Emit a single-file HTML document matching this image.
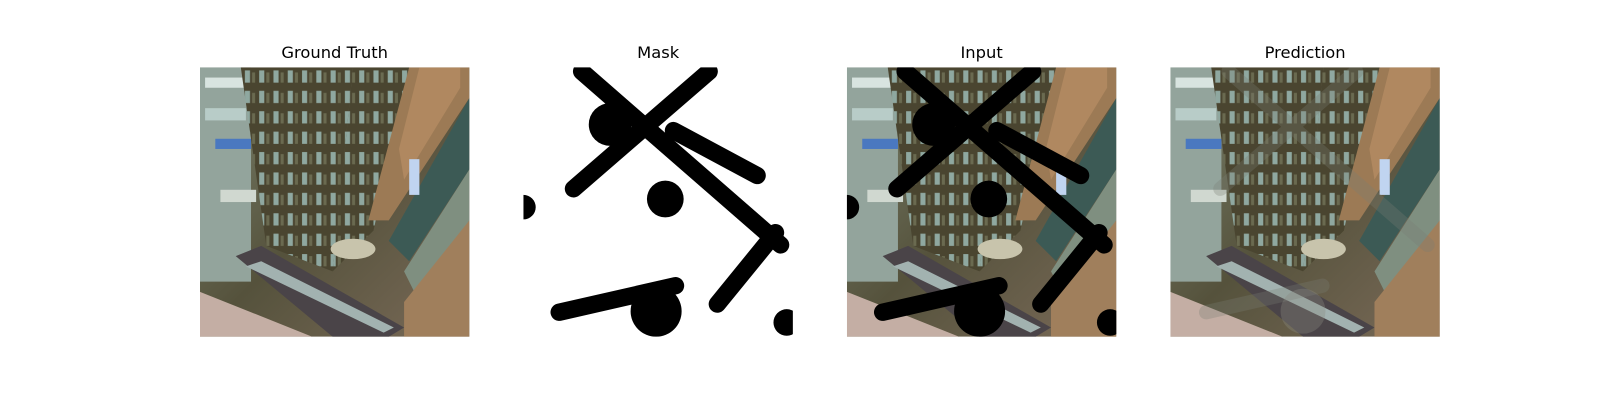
<!DOCTYPE html>
<html><head><meta charset="utf-8"><style>
html,body{margin:0;padding:0;background:#fff;}
svg{display:block;}
text{font-family:"DejaVu Sans","Liberation Sans",sans-serif;font-size:16px;fill:#000;}
</style></head><body>
<svg width="1600" height="400" viewBox="0 0 1600 400" xmlns="http://www.w3.org/2000/svg">
<defs>
  <clipPath id="pc"><rect x="0" y="0" width="264" height="264"/></clipPath>
  <linearGradient id="bg" x1="0" y1="0" x2="1" y2="1">
    <stop offset="0" stop-color="#7d8570"/><stop offset="0.5" stop-color="#55523c"/><stop offset="1" stop-color="#7a6a58"/>
  </linearGradient>
  <pattern id="cols" width="14" height="20" patternUnits="userSpaceOnUse">
    <rect width="14" height="20" fill="#4a4530"/>
    <rect x="2" y="3" width="5" height="12" fill="#8fa8a0"/>
    <rect x="9" y="5" width="3" height="10" fill="#6a6a50"/>
  </pattern>
  <g id="photo">
    <rect width="264" height="264" fill="url(#bg)"/>
    <rect x="0" y="0" width="50" height="210" fill="#93a49c"/>
    <rect x="5" y="10" width="40" height="10" fill="#d8e4e0"/>
    <rect x="5" y="40" width="40" height="12" fill="#b8ccc8"/>
    <rect x="15" y="70" width="35" height="10" fill="#4a78c0"/>
    <rect x="20" y="120" width="35" height="12" fill="#d0d8d0"/>
    <polygon points="40,0 150,0 130,200 65,175" fill="url(#cols)"/>
    <polygon points="150,0 205,0 170,160 130,200" fill="url(#cols)"/>
    <polygon points="205,0 264,0 264,30 185,150 165,150" fill="#9c7a55"/>
    <polygon points="215,0 255,0 255,20 200,110 195,80" fill="#b08860"/>
    <polygon points="264,30 264,100 205,190 185,170" fill="#3c5a55"/>
    <polygon points="264,100 264,150 215,230 200,200" fill="#7f8f80"/>
    <polygon points="200,230 264,150 264,264 200,264" fill="#a07f5c"/>
    <polygon points="35,185 60,175 200,255 185,264 130,264" fill="#4a4448"/>
    <polygon points="45,195 60,190 190,255 180,260" fill="#a2b2b0"/>
    <polygon points="0,220 50,240 110,264 0,264" fill="#c4aea4"/>
    <rect x="205" y="90" width="10" height="35" fill="#c0d4f0"/>
    <ellipse cx="150" cy="178" rx="22" ry="10" fill="#c8c4ac"/>
  </g>
  <g id="mask">
    <g stroke="#000" stroke-width="17" stroke-linecap="round" fill="none">
      <line x1="57" y1="4" x2="252" y2="174"/>
      <line x1="182" y1="4" x2="49" y2="119"/>
      <line x1="147" y1="62" x2="229" y2="106"/>
      <line x1="247" y1="162" x2="190" y2="232"/>
      <line x1="35" y1="240" x2="149" y2="214"/>
    </g>
    <circle cx="85" cy="56" r="21"/>
    <circle cx="139" cy="129" r="18"/>
    <circle cx="0" cy="137" r="12"/>
    <circle cx="130" cy="239" r="25"/>
    <circle cx="258" cy="250" r="13"/>
  </g>
</defs>
<g transform="scale(1.0204)">
<g transform="translate(196,66)">
  <g clip-path="url(#pc)"><use href="#photo"/></g>
</g>
<text x="328" y="57" text-anchor="middle">Ground Truth</text>
<g transform="translate(513,66)">
  <g clip-path="url(#pc)"><rect width="264" height="264" fill="#fff"/><use href="#mask"/></g>
</g>
<text x="645" y="57" text-anchor="middle">Mask</text>
<g transform="translate(830,66)">
  <g clip-path="url(#pc)"><use href="#photo"/><use href="#mask"/></g>
</g>
<text x="962" y="57" text-anchor="middle">Input</text>
<g transform="translate(1147,66)">
  <g clip-path="url(#pc)"><use href="#photo"/>
    <g stroke="#7a7e74" stroke-width="14" stroke-linecap="round" opacity="0.3" fill="none">
      <line x1="57" y1="4" x2="252" y2="174"/><line x1="182" y1="4" x2="49" y2="119"/>
      <line x1="35" y1="240" x2="149" y2="214"/>
    </g>
    <circle cx="130" cy="239" r="22" fill="#8a8a80" opacity="0.35"/>
  </g>
</g>
<text x="1279" y="57" text-anchor="middle">Prediction</text>
</g>
</svg>
</body></html>
